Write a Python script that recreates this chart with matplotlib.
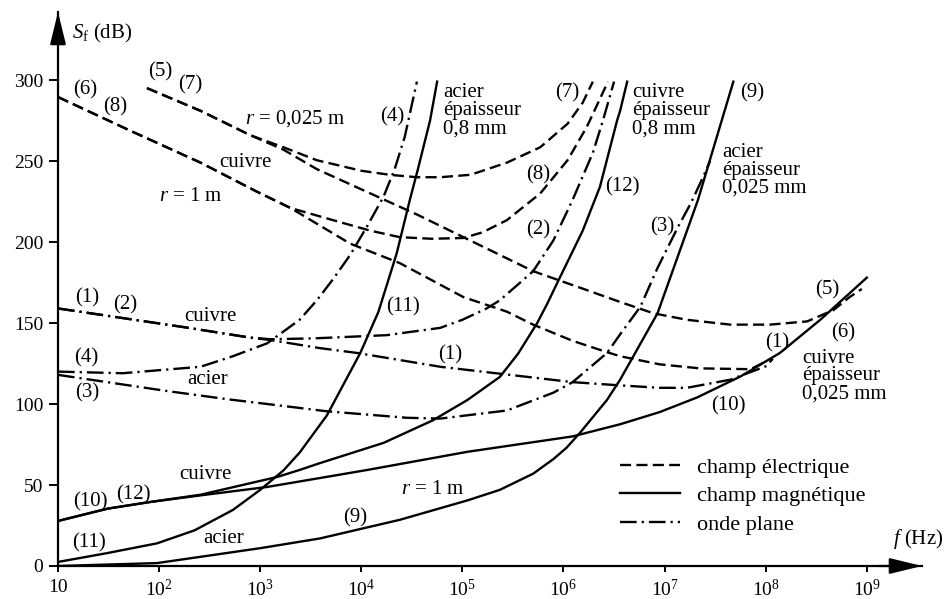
import numpy as np
import matplotlib.pyplot as plt
from matplotlib.lines import Line2D

plt.rcParams['font.family'] = ['Liberation Serif', 'DejaVu Serif']
plt.rcParams['mathtext.fontset'] = 'custom'
plt.rcParams['mathtext.rm'] = 'Liberation Serif'
plt.rcParams['mathtext.it'] = 'Liberation Serif:italic'
plt.rcParams['lines.scale_dashes'] = False

# curves: x in decades (log10 f), S_f in dB
# champ électrique (dashed)
lg5 = [1.88, 2.41, 2.90, 3.23, 3.56, 4.16, 4.55, 5.01, 5.70, 6.20, 6.56, 6.89, 7.22, 7.65, 8.04, 8.41, 8.67, 8.83, 8.95]
s5 = [295, 281, 266, 257, 245, 228, 217, 203, 182, 171, 163, 156, 152, 149, 149, 151, 158, 166, 171]
lg7 = [1.88, 2.41, 2.90, 3.23, 3.56, 4.00, 4.28, 4.55, 4.78, 5.08, 5.44, 5.77, 6.04, 6.19, 6.29]
s7 = [295, 281, 266, 258.5, 250.5, 244, 241.5, 240, 240, 241.5, 249, 258.5, 273, 286, 299]
lg6 = [1.00, 1.74, 2.41, 2.97, 3.30, 3.89, 4.38, 5.01, 5.44, 5.70, 6.09, 6.43, 6.56, 6.95, 7.35, 7.85, 8.01]
s6 = [289.5, 268, 249, 231, 221, 199, 187, 166, 157, 149, 139, 132, 129.5, 124.5, 122, 121.5, 126.5]
lg8 = [1.00, 1.74, 2.41, 2.97, 3.30, 3.72, 4.09, 4.38, 4.70, 5.01, 5.20, 5.44, 5.77, 6.04, 6.23, 6.44]
s8 = [289.5, 268, 249, 231, 221, 213.5, 207, 203, 202, 202.5, 206, 213.5, 230, 250.5, 271, 299]

# champ magnétique (solid)
lg9 = [1.00, 1.98, 3.00, 3.59, 4.38, 5.05, 5.37, 5.70, 5.90, 6.03, 6.16, 6.43, 6.56, 6.93, 7.33, 7.68]
s9 = [0, 1.8, 11, 17, 28.5, 40.5, 47, 57, 66, 73, 82, 102.5, 115, 156, 226, 299]
lg10 = [1.00, 1.49, 1.91, 2.41, 3.07, 3.59, 4.06, 5.05, 6.09, 6.56, 6.95, 7.32, 7.75, 8.14, 8.54, 9.00]
s10 = [27.8, 35.4, 39.5, 43.6, 48.8, 54.3, 59.3, 70.5, 80, 87.5, 95, 104, 117, 131.5, 152, 178]
lg11 = [1.00, 1.49, 1.98, 2.35, 2.73, 3.00, 3.23, 3.39, 3.66, 3.99, 4.17, 4.35, 4.48, 4.56, 4.68, 4.75]
s11 = [2.5, 8, 14, 22, 34.6, 47, 59, 70, 93, 131.5, 157, 193, 226, 245, 275, 299]
lg12 = [1.00, 1.49, 1.91, 2.41, 3.17, 3.39, 3.59, 4.22, 4.71, 5.05, 5.37, 5.55, 5.74, 5.84, 5.94, 6.19, 6.36, 6.53, 6.56, 6.63]
s12 = [27.8, 35.4, 39.5, 44, 55, 59.3, 63.5, 76, 90, 102.5, 116.7, 131, 150, 162, 175, 207, 234, 275, 281, 299]

# onde plane (dash-dot)
lg1 = [1.00, 2.24, 2.90, 3.10, 3.59, 3.96, 4.78, 6.09, 6.56, 6.95, 7.22, 7.65, 8.01, 8.07]
s1 = [159, 147.5, 141, 139.5, 134.5, 131.5, 123, 113.5, 111.5, 110, 110, 115, 123.5, 128]
lg2 = [1.00, 2.24, 2.90, 3.10, 3.52, 4.25, 4.78, 5.00, 5.24, 5.37, 5.70, 5.90, 6.09, 6.29, 6.39, 6.50]
s2 = [159, 147.5, 141, 140, 140.5, 142.5, 147, 152, 159, 164, 182, 201, 226, 255, 275, 299]
lg3 = [1.00, 2.08, 2.67, 3.07, 3.66, 4.45, 4.78, 5.44, 5.90, 6.09, 6.43, 6.56, 6.76, 6.93, 7.13, 7.26, 7.38, 7.45]
s3 = [118, 108, 103, 100, 95.5, 91.5, 91, 96, 107, 113.5, 131.5, 143, 160, 184, 209, 224, 240, 250]
lg4 = [1.00, 1.64, 2.41, 2.73, 3.07, 3.39, 3.56, 3.72, 3.89, 4.06, 4.22, 4.33, 4.43, 4.49, 4.55]
s4 = [120, 119, 123, 129.5, 137.5, 152, 164, 177, 192, 210, 228, 245, 265, 282, 299]

dashed = [(lg5, s5), (lg7, s7), (lg6, s6), (lg8, s8)]
solid = [(lg9, s9), (lg10, s10), (lg11, s11), (lg12, s12)]
dashdot = [(lg1, s1), (lg2, s2), (lg3, s3), (lg4, s4)]

DASH = (0, (8, 3.8))
DASHDOT = (0, (12, 3.6, 1.6, 3.6))
LW = 1.7

fig = plt.figure(figsize=(9.46, 5.99), dpi=100)
ax = fig.add_axes([58 / 946, 33 / 599, 864 / 946, 554 / 599])
ax.set_xscale('log')
ax.set_xlim(10, 10 ** 9.546)
ax.set_ylim(0, 342)

for lg, s in dashed:
    ax.plot(10 ** np.array(lg), s, color='k', lw=LW, ls=DASH, solid_joinstyle='round')
for lg, s in solid:
    ax.plot(10 ** np.array(lg), s, color='k', lw=LW, ls='-', solid_joinstyle='round')
for lg, s in dashdot:
    ax.plot(10 ** np.array(lg), s, color='k', lw=LW, ls=DASHDOT, solid_joinstyle='round')

# axes with arrows
for side in ['top', 'right']:
    ax.spines[side].set_visible(False)
for side in ['left', 'bottom']:
    ax.spines[side].set_linewidth(1.6)
arrow = dict(arrowstyle='-|>,head_length=0.9,head_width=0.22', mutation_scale=22,
             color='k', lw=1.6, shrinkA=0, shrinkB=0)
ax.annotate('', xy=(1, 0), xytext=(0.95, 0), xycoords='axes fraction', arrowprops=arrow)
ax.annotate('', xy=(0, 1), xytext=(0, 0.95), xycoords='axes fraction', arrowprops=arrow)

xt = [10 ** k for k in range(1, 10)]
ax.set_xticks(xt)
ax.set_xticklabels(['10'] + [r'$10^{%d}$' % k for k in range(2, 10)])
ax.minorticks_off()
ax.set_yticks([0, 50, 100, 150, 200, 250, 300])
ax.tick_params(axis='y', direction='out', length=6.5, width=1.4, labelsize=14, pad=4)
ax.tick_params(axis='x', direction='out', length=4.5, width=1.4, labelsize=14, pad=5)

FS = 15
ax.text(10 ** 1.138, 329, r'$S_{\mathrm{f}}$ (dB)', fontsize=FS, ha='left', va='center')
ax.text(10 ** 9.259, 16.7, r'$f$ (Hz)', fontsize=FS, ha='left', va='center')

labels = [
    ('(6)', 1.267, 293.8), ('(8)', 1.564, 283.3), ('(5)', 2.009, 305), ('(7)', 2.306, 297),
    ('cuivre', 2.85, 249.4), ('$r$ = 1 m', 2.316, 228.4), ('(4)', 4.304, 277),
    ('(7)', 6.035, 292), ('(9)', 7.865, 292), ('(8)', 5.748, 241.4), ('(12)', 6.579, 234),
    ('(2)', 5.748, 207.4), ('(3)', 6.974, 209.3), ('(11)', 4.412, 159.9), ('(1)', 4.877, 130.2),
    ('(1)', 1.287, 165.4), ('(2)', 1.663, 161.1), ('cuivre', 2.503, 154.3), ('(4)', 1.277, 128.4),
    ('acier', 2.484, 115.4), ('(3)', 1.287, 106.8), ('(5)', 8.606, 170.4), ('(6)', 8.765, 143.8),
    ('(1)', 8.112, 137.7), ('(10)', 7.627, 98.8), ('cuivre', 2.454, 56.2), ('(10)', 1.317, 39.5),
    ('(12)', 1.742, 43.8), ('(11)', 1.307, 14.2), ('acier', 2.642, 16.7),
    ('$r$ = 1 m', 4.709, 47.5), ('(9)', 3.938, 29.6),
]
for txt, lg, s in labels:
    ax.text(10 ** lg, s, txt, fontsize=FS, ha='center', va='center')

left_labels = [
    ('$r$ = 0,025 m', 2.85, 276.5),
    ('acier\népaisseur\n0,8 mm', 4.808, 281),
    ('cuivre\népaisseur\n0,8 mm', 6.678, 281),
    ('acier\népaisseur\n0,025 mm', 7.568, 244.4),
    ('cuivre\népaisseur\n0,025 mm', 8.359, 117.3),
]
for txt, lg, s in left_labels:
    ax.text(10 ** lg, s, txt, fontsize=FS, ha='left', va='center', linespacing=0.92)

handles = [Line2D([], [], color='k', lw=LW, ls=DASH),
           Line2D([], [], color='k', lw=LW, ls='-'),
           Line2D([], [], color='k', lw=LW, ls=DASHDOT)]
ax.legend(handles, ['champ électrique', 'champ magnétique', 'onde plane'],
          loc='upper left', bbox_to_anchor=(620 / 946, 1 - 457 / 599),
          bbox_transform=fig.transFigure, frameon=False, fontsize=16,
          handlelength=2.7, handletextpad=0.75, labelspacing=0.36, borderpad=0,
          borderaxespad=0)

fig.savefig('out.png', dpi=100)
